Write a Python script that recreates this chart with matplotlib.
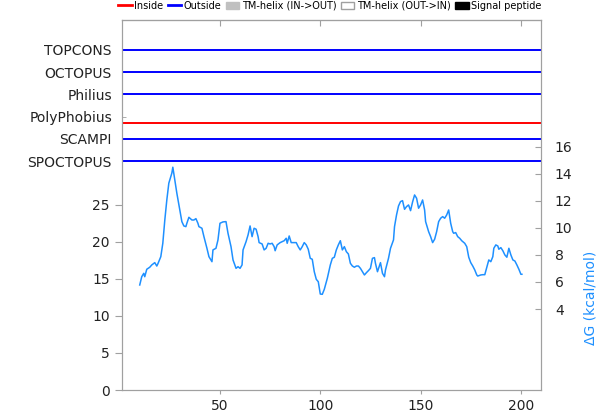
import matplotlib
matplotlib.use('Agg')
import matplotlib.pyplot as plt
from matplotlib.lines import Line2D
from matplotlib.patches import Patch

# topology predictors, top to bottom, and the side each one predicts
methods = ["TOPCONS", "OCTOPUS", "Philius", "PolyPhobius", "SCAMPI", "SPOCTOPUS"]
sides = ["out", "out", "out", "in", "out", "out"]
row_pos = [45.9, 42.9, 39.9, 36.9, 33.9, 30.9]
seq_len = 210

# predicted delta-G curve (kcal/mol) along the sequence
residue = [10, 11, 12, 12.5, 13.5, 15, 16, 17.5, 18.5, 19, 20.5, 21.5, 22.5, 23.5, 24.5, 26, 26.5,
           27.5, 28.5, 30, 31, 32, 33, 33.5, 34.5, 36, 37, 38, 39, 39.5, 41, 42, 43.5, 44.5, 46,
           46.5, 48, 49, 50, 51.5, 53, 54, 55.5, 56.5, 58, 59, 60, 61, 61.5, 63, 64, 65, 66, 67,
           68, 69, 69.5, 71, 72, 73, 74, 75, 76, 77, 77.5, 78.5, 80, 81, 82, 83, 83.5, 84.5, 85.5,
           87, 88, 89, 90, 91, 92, 93, 94, 95, 96, 97, 98, 99, 100, 101, 102, 103.5, 105, 106,
           107, 108, 109, 110, 111, 112, 113, 114, 115, 116, 117, 118, 119, 120, 121.5, 122, 123,
           124, 125, 126, 127, 127.5, 128.5, 130, 131, 132, 132.5, 134, 135, 136.5, 137, 138, 139,
           140, 141, 142, 143, 144, 145, 146, 147, 148, 149, 150, 151, 152, 152.5, 153.5, 154,
           155, 156, 157, 158, 159, 160, 161, 162, 163, 164, 165, 166, 166.5, 167.5, 168.5, 169.5,
           170.5, 172, 173, 174, 175, 176, 177, 178, 178.5, 180, 181, 182, 183, 184, 185, 186,
           186.5, 187.5, 188.5, 189, 190, 191, 192, 193, 194, 195, 196, 197, 198, 199, 200, 200.5]
dg = [5.78, 6.39, 6.64, 6.39, 6.94, 7.09, 7.26, 7.43, 7.18, 7.33, 7.87, 8.86, 10.58, 12.06, 13.30,
      14.04, 14.48, 13.54, 12.56, 11.32, 10.46, 10.14, 10.09, 10.34, 10.78, 10.58, 10.58, 10.68,
      10.34, 10.09, 9.97, 9.35, 8.49, 7.87, 7.50, 8.37, 8.49, 9.11, 10.34, 10.44, 10.46, 9.60,
      8.61, 7.63, 7.01, 7.13, 7.01, 7.26, 8.37, 8.98, 9.48, 10.14, 9.35, 9.97, 9.90, 9.35, 8.91,
      8.81, 8.37, 8.49, 8.86, 8.81, 8.86, 8.61, 8.31, 8.74, 8.91, 8.98, 9.05, 9.23, 8.86, 9.40,
      8.91, 8.91, 8.91, 8.61, 8.37, 8.61, 8.91, 8.74, 8.42, 7.75, 7.68, 6.76, 6.20, 6.02, 5.11,
      5.09, 5.46, 6.27, 7.26, 7.75, 7.83, 8.37, 8.74, 9.05, 8.37, 8.61, 8.24, 8.07, 7.38, 7.18,
      7.09, 7.18, 7.18, 7.01, 6.64, 6.52, 6.69, 6.84, 7.01, 7.75, 7.80, 7.38, 6.76, 7.43, 6.64,
      6.39, 6.89, 7.75, 8.49, 9.11, 10.09, 10.95, 11.62, 11.94, 12.01, 11.37, 11.57, 11.69,
      11.27, 11.91, 12.43, 12.19, 11.45, 11.69, 12.06, 11.32, 10.46, 9.97, 9.72, 9.35, 8.91,
      9.16, 9.72, 10.46, 10.71, 10.83, 10.71, 10.95, 11.32, 10.34, 9.72, 9.60, 9.65, 9.35, 9.23,
      9.05, 8.86, 8.61, 7.83, 7.43, 7.18, 6.89, 6.52, 6.44, 6.52, 6.54, 6.54, 7.09, 7.63, 7.50,
      7.87, 8.49, 8.74, 8.66, 8.42, 8.54, 8.31, 8.00, 7.83, 8.49, 8.00, 7.63, 7.55, 7.26, 6.94,
      6.57, 6.57]

frame_col = '#a0a0a0'
curve_col = '#1e90ff'
side_col = {"in": "red", "out": "blue"}
side_off = {"in": -0.8, "out": 0.0}

fig = plt.figure(figsize=(6, 4.2), dpi=100)
ax = fig.add_axes([0.2028, 0.0714, 0.6988, 0.8821])
ax2 = ax.twinx()

# one line per method across the whole sequence
for name, side, y in zip(methods, sides, row_pos):
    ax.plot([1, seq_len], [y + side_off[side]] * 2, color=side_col[side], lw=1.4,
            solid_capstyle='butt')

ax2.plot(residue, dg, color=curve_col, lw=1.1)

ax.set_xlim(1, seq_len)
ax.set_ylim(0, 50)
ax2.set_ylim(-1.98, 25.39)

ax.set_xticks([50, 100, 150, 200])
ax.set_yticks([0, 5, 10, 15, 20, 25])
ax.set_yticks(row_pos, minor=True)
ax.set_yticklabels(methods, minor=True)
ax.tick_params(axis='y', which='major', direction='out', length=5, color=frame_col,
               labelsize=10, labelcolor='#222222')
ax.tick_params(axis='y', which='minor', direction='in', length=3, color=frame_col,
               labelsize=10, labelcolor='#222222', pad=7)
ax.tick_params(axis='x', direction='out', length=3, color=frame_col, labelsize=10,
               labelcolor='#222222')

top = ax.secondary_xaxis('top')
top.set_xticks([50, 100, 150, 200])
top.tick_params(direction='in', length=4, color=frame_col, labeltop=False)
top.spines['top'].set_color(frame_col)

ax2.set_yticks([4, 6, 8, 10, 12, 14, 16])
ax2.tick_params(direction='in', length=4, color=frame_col, labelsize=10,
                labelcolor='#222222', pad=10)

for a in (ax, ax2):
    for s in a.spines.values():
        s.set_color(frame_col)

fig.text(0.985, 0.29, 'ΔG (kcal/mol)', rotation=90, ha='center', va='center',
         color=curve_col, fontsize=10)

handles = [Line2D([], [], color='red', lw=2),
           Line2D([], [], color='blue', lw=2),
           Patch(facecolor='#c0c0c0', edgecolor='#c0c0c0'),
           Patch(facecolor='white', edgecolor='#a0a0a0'),
           Patch(facecolor='black', edgecolor='black')]
labels = ['Inside', 'Outside', 'TM-helix (IN->OUT)', 'TM-helix (OUT->IN)', 'Signal peptide']
fig.legend(handles, labels, loc='upper right', bbox_to_anchor=(0.912, 1.012), ncol=5,
           frameon=False, fontsize=7, handlelength=1.4, handletextpad=0.25,
           columnspacing=0.45, borderaxespad=0.2)

fig.savefig('out.png', dpi=100)
